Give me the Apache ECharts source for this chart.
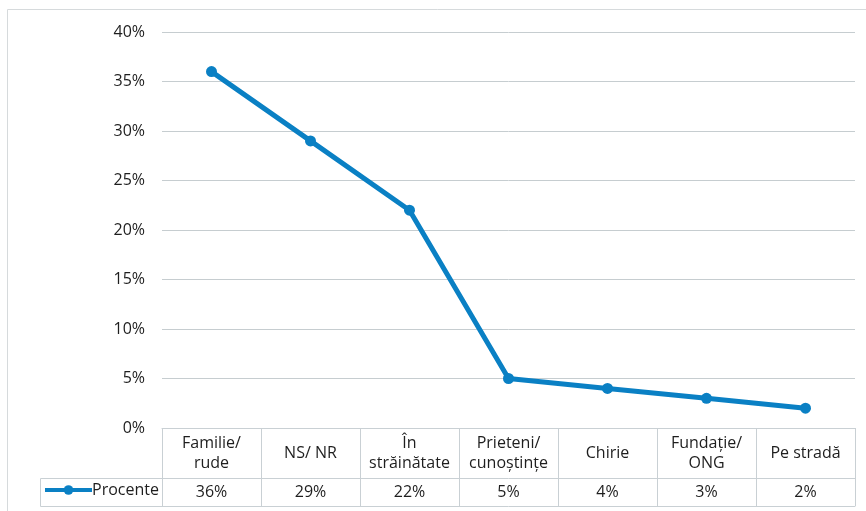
<!DOCTYPE html>
<html>
<head>
<meta charset="utf-8">
<script src="https://cdn.jsdelivr.net/npm/echarts@6/dist/echarts.min.js"></script>
<style>html,body{margin:0;padding:0;background:#fff;}#c{width:866px;height:511px;}</style>
</head>
<body>
<div id="c"></div>
<script>
var categories = ['Familie/\nrude', 'NS/ NR', 'În\nstrăinătate', 'Prieteni/\ncunoștințe', 'Chirie', 'Fundație/\nONG', 'Pe stradă'];
var values = [36, 29, 22, 5, 4, 3, 2];
var seriesName = 'Procente';
var yTicks = [0, 5, 10, 15, 20, 25, 30, 35, 40];

var FONT = 'Open Sans';
var TXT = '#1e1e1e';
var BORDER = '#c9d0d4';
var BLUE = '#0a80c4';

var chart = echarts.init(document.getElementById('c'));
chart.setOption({
  animation: false,
  textStyle: { fontFamily: FONT },
  graphic: [
    { type: 'rect', shape: { x: 7.5, y: 9.5, width: 880, height: 520 }, style: { fill: 'none', stroke: '#d6dadc', lineWidth: 1 }, silent: true },
    { type: 'rect', shape: { x: 40.5, y: 478.5, width: 122, height: 28 }, style: { fill: 'none', stroke: BORDER, lineWidth: 1 }, silent: true }
  ],
  legend: {
    left: 40, top: 482,
    itemWidth: 47, itemHeight: 12, itemGap: 0,
    padding: [0, 0, 0, 3],
    lineStyle: { width: 4 },
    textStyle: { fontFamily: FONT, fontSize: 16, color: TXT, padding: [0, 0, 0, -5] },
    data: [seriesName]
  },
  grid: { left: 162, right: 11, top: 32, bottom: 83 },
  xAxis: [
    {
      type: 'category', data: categories, boundaryGap: true,
      axisLine: { lineStyle: { color: BORDER, width: 1 } },
      axisTick: { show: true, interval: 0, length: 78, lineStyle: { color: BORDER } },
      axisLabel: { interval: 0, margin: 25, verticalAlign: 'middle', fontSize: 16, lineHeight: 20, color: TXT, fontFamily: FONT }
    },
    {
      type: 'category', data: categories, position: 'bottom', offset: 50,
      axisLine: { show: true, lineStyle: { color: BORDER } },
      axisTick: { show: false },
      axisLabel: { interval: 0, margin: 14, verticalAlign: 'middle', fontSize: 16, color: TXT, fontFamily: FONT,
        formatter: function (v, i) { return values[i] + '%'; } }
    },
    {
      type: 'category', data: categories, position: 'bottom', offset: 78,
      axisLine: { show: true, lineStyle: { color: BORDER } },
      axisTick: { show: false },
      axisLabel: { show: false }
    }
  ],
  yAxis: {
    type: 'value', min: yTicks[0], max: yTicks[yTicks.length - 1], interval: 5,
    axisLine: { show: false }, axisTick: { show: false },
    splitLine: { lineStyle: { color: '#c6cdd0', width: 1 } },
    axisLabel: { margin: 17, fontSize: 16, color: TXT, fontFamily: FONT, formatter: '{value}%' }
  },
  series: [{
    name: seriesName, type: 'line', xAxisIndex: 0, data: values,
    symbol: 'circle', symbolSize: 11,
    lineStyle: { color: BLUE, width: 5 },
    itemStyle: { color: BLUE }
  }]
});
</script>
</body>
</html>
